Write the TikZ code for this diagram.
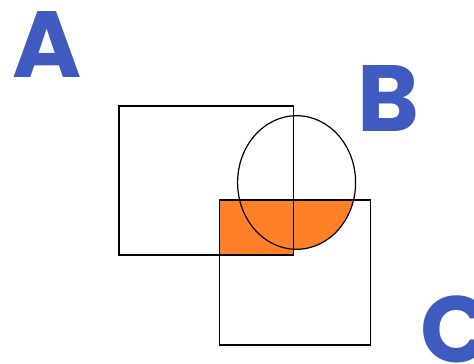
\documentclass[tikz,border=0pt]{standalone}
\usepackage{fontspec}
\setmainfont{Poppins}
\definecolor{setblue}{RGB}{63,91,191}
\definecolor{setorange}{RGB}{255,128,38}
\tikzset{
  setlabel/.style={font=\fontsize{94}{94}\selectfont\bfseries, text=setblue, inner sep=0pt, anchor=base west},
  setline/.style={black, line width=1.2pt}
}
\begin{document}
\begin{tikzpicture}[x=1pt, y=-1pt]
    \useasboundingbox (0,0) rectangle (474,364);

    % Shaded region: (A or B) and C
    \begin{scope}
        \clip (219.5,200) rectangle (370.5,345);
        \fill[setorange] (119,106) rectangle (293.5,255);
        \fill[setorange] (296.6,182.5) ellipse [x radius=59, y radius=66.8];
    \end{scope}

    % Sets
    \draw[setline] (119,106) rectangle (293.5,255);
    \draw[setline] (296.6,182.5) ellipse [x radius=59, y radius=66.8];
    \draw[setline] (219.5,200) rectangle (370.5,345);

    % Labels
    \node[setlabel] (labA) at (12,77) {A};
    \node[setlabel] (labB) at (357,131.5) {B};
    \node[setlabel] (labC) at (420,362) {C};
\end{tikzpicture}
\end{document}
